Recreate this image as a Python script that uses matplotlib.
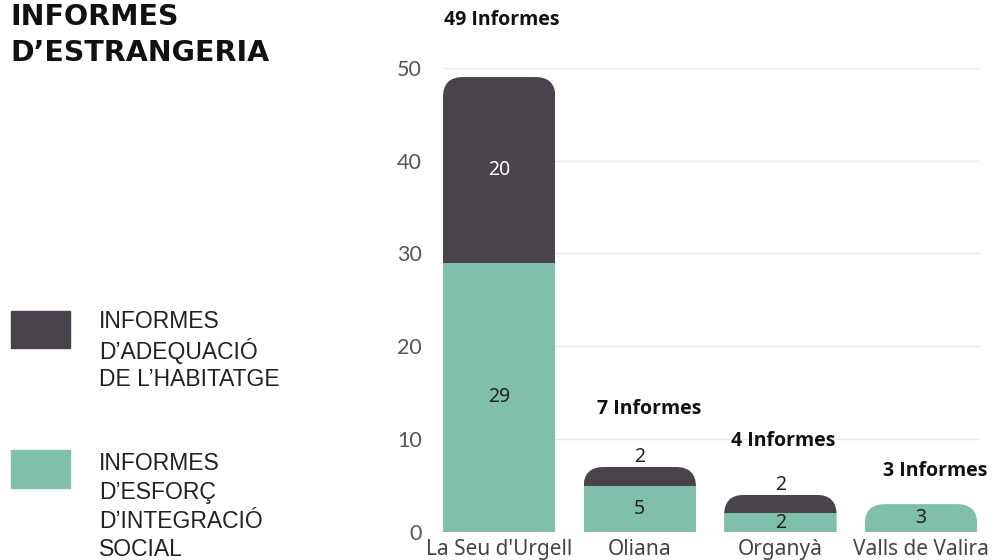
import matplotlib.pyplot as plt
import numpy as np
from matplotlib.patches import FancyBboxPatch, Rectangle

municipis = ["La Seu d'Urgell", "Oliana", "Organyà", "Valls de Valira"]
esforc_integracio = [29, 5, 2, 3]
adequacio_habitatge = [20, 2, 2, 0]
y_ticks = [0, 10, 20, 30, 40, 50]

color_fosc = "#49444b"
color_verd = "#80bfab"

esforc = np.array(esforc_integracio)
adequacio = np.array(adequacio_habitatge)
totals = esforc + adequacio

fig = plt.figure(figsize=(9.99, 5.6), dpi=100)
ax = fig.add_axes([0.4434, 0.05, 0.5376, 0.829])

x = np.arange(len(municipis))
ample = 0.8
barres_verdes = ax.bar(x, esforc, width=ample, color=color_verd, zorder=2)
barres_fosques = ax.bar(x, adequacio, bottom=esforc, width=ample, color=color_fosc, zorder=2)

ax.set_xlim(-0.4, 3.42)
ax.set_ylim(0, 50)

# cantonades arrodonides a dalt de cada barra
fig.canvas.draw()
px_x = ax.transData.transform((1, 0))[0] - ax.transData.transform((0, 0))[0]
px_y = ax.transData.transform((0, 1))[1] - ax.transData.transform((0, 0))[1]
radi_px = 20
for i, t in enumerate(totals):
    clip = FancyBboxPatch((x[i] - ample / 2, -t), ample, 2 * t,
                          boxstyle=f"round,pad=0,rounding_size={radi_px / px_x}",
                          mutation_aspect=px_x / px_y,
                          transform=ax.transData, facecolor="none", edgecolor="none")
    ax.add_patch(clip)
    clip.set_visible(False)
    barres_verdes[i].set_clip_path(clip)
    barres_fosques[i].set_clip_path(clip)

# graella
for v in y_ticks:
    ax.axhline(v, color="#e8e8e8", linewidth=1, zorder=0)
for s in ax.spines.values():
    s.set_visible(False)

ax.set_yticks(y_ticks)
ax.set_yticklabels([str(v) for v in y_ticks], fontfamily="Lato", fontsize=15.5, color="#555555")
ax.tick_params(axis="y", length=0, pad=15)
ax.set_xticks(x)
ax.set_xticklabels(municipis, fontfamily="Noto Sans", fontsize=15, color="#444444")
ax.tick_params(axis="x", length=0, pad=5)

# valors de cada tram
for i in range(len(municipis)):
    if esforc[i] > 0:
        ax.text(x[i], esforc[i] / 2, str(esforc[i]),
                ha="center", va="center", fontsize=14, fontfamily="Noto Sans", color="#222222", zorder=3)
    if adequacio[i] > 0:
        if adequacio[i] >= 5:
            yv = esforc[i] + adequacio[i] / 2
            col = "white"
        else:
            yv = totals[i] + 1.1
            col = "#222222"
        ax.text(x[i], yv, str(adequacio[i]), ha="center", va="center",
                fontsize=14, fontfamily="Noto Sans", color=col, zorder=3)

# totals a sobre
desp_y = [6.1, 6.2, 5.8, 3.6]
desp_x = [0.02, 0.07, 0.02, 0.1]
for i, t in enumerate(totals):
    ax.text(x[i] + desp_x[i], t + desp_y[i], f"{t} Informes", ha="center", va="center",
            fontsize=14, fontweight="bold", fontfamily="Open Sans", color="#111111", clip_on=False)

# títol
fig.text(0.01, 1 - 25 / 560, "INFORMES", fontsize=20.5, fontweight="bold",
         fontfamily="DejaVu Sans", va="baseline", ha="left", color="#111111")
fig.text(0.01, 1 - 61 / 560, "D\u2019ESTRANGERIA", fontsize=20.5, fontweight="bold",
         fontfamily="DejaVu Sans", va="baseline", ha="left", color="#111111")

# llegenda
fig.add_artist(Rectangle((11 / 999, 1 - 348 / 560), 59 / 999, 37 / 560,
                         transform=fig.transFigure, color=color_fosc))
fig.add_artist(Rectangle((11 / 999, 1 - 488 / 560), 59 / 999, 38 / 560,
                         transform=fig.transFigure, color=color_verd))
llegenda1 = ["INFORMES", "D\u2019ADEQUACIÓ", "DE L\u2019HABITATGE"]
llegenda2 = ["INFORMES", "D\u2019ESFORÇ", "D\u2019INTEGRACIÓ", "SOCIAL"]
for j, linia in enumerate(llegenda1):
    fig.text(99 / 999, 1 - (322 + 29 * j) / 560, linia, fontsize=16.5,
             fontfamily="Liberation Sans", va="center", ha="left", color="#222222")
for j, linia in enumerate(llegenda2):
    fig.text(99 / 999, 1 - (464 + 28.5 * j) / 560, linia, fontsize=16.5,
             fontfamily="Liberation Sans", va="center", ha="left", color="#222222")

fig.savefig("out.png", dpi=100)
